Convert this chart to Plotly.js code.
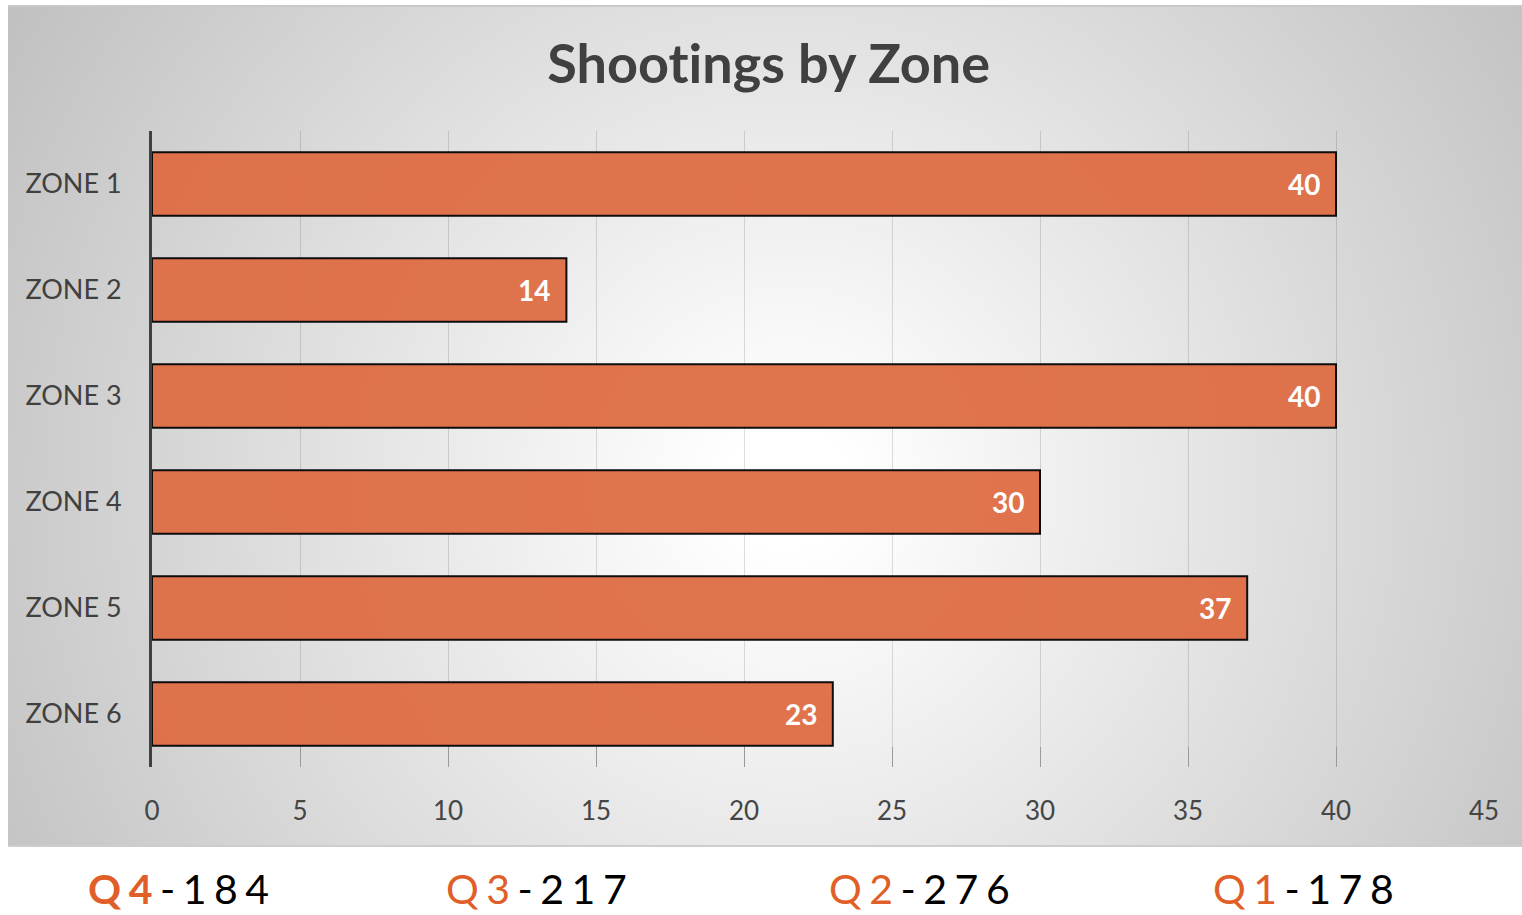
<!DOCTYPE html>
<html>
<head>
<meta charset="utf-8">
<script src="https://cdn.plot.ly/plotly-3.0.1.min.js"></script>
<style>
  html, body { margin:0; padding:0; background:#ffffff; }
  #wrap { position:relative; width:1522px; height:915px; overflow:hidden; }
  #panel {
    position:absolute; left:8px; top:5px; width:1514px; height:838px;
    border-top:2px solid #c9c9c9; border-bottom:2px solid #cdcdcd;
    background: radial-gradient(circle 1000px at 780px 480px, #ffffff 0%, #ffffff 6%, #bababa 100%);
  }
  #chart { position:absolute; left:0; top:0; width:1522px; height:915px; }
  #chart text { font-variant-ligatures: none; font-feature-settings: "liga" 0, "clig" 0; }
</style>
</head>
<body>
<div id="wrap">
  <div id="panel"></div>
  <div id="chart"></div>
</div>
<script>
const zones = ["ZONE 1", "ZONE 2", "ZONE 3", "ZONE 4", "ZONE 5", "ZONE 6"];
const shootings = [40, 14, 40, 30, 37, 23];
const quarters = ["Q4", "Q3", "Q2", "Q1"];
const quarterTotals = [184, 217, 276, 178];
const xTicks = [0, 5, 10, 15, 20, 25, 30, 35, 40, 45];

const FONT = "Lato, 'Open Sans', sans-serif";
const ORANGE = "#E05F28";

const trace = {
  type: "bar",
  orientation: "h",
  x: shootings,
  y: zones,
  marker: { color: "#DF6C42", opacity: 0.94, line: { color: "#000000", width: 2 } },
  hoverinfo: "x+y"
};

const labelAnn = shootings.map((v, i) => ({
  x: v, y: zones[i], xref: "x", yref: "y",
  text: "<b>" + v + "</b>", showarrow: false,
  xanchor: "right", yanchor: "middle", xshift: -14, yshift: 0,
  font: { family: FONT, size: 28, color: "#ffffff" }
}));

const qCenters = [0.0231, 0.2912, 0.5790, 0.8670];
const qAnn = quarters.map((q, i) => ({
  x: qCenters[i], y: -0.191, xref: "paper", yref: "paper",
  showarrow: false, xanchor: "center", yanchor: "middle",
  text: '<span style="color:' + ORANGE + ';letter-spacing:7.5px">' + (i === 0 ? '<b>' + q + '</b>' : q) + '</span>' +
        '<span style="color:#000000;letter-spacing:7.5px">-' + quarterTotals[i] + '</span>',
  font: { family: FONT, size: 41, color: "#000000" }
}));

const layout = {
  width: 1522, height: 915,
  paper_bgcolor: "rgba(0,0,0,0)",
  plot_bgcolor: "rgba(0,0,0,0)",
  margin: { l: 152, r: 38, t: 131, b: 148 },
  showlegend: false,
  bargap: 0.4,
  title: {
    text: "<b>Shootings by Zone</b>",
    x: 0.505, xanchor: "center",
    y: 0.93, yanchor: "middle",
    font: { family: FONT, size: 54, color: "#404040" }
  },
  xaxis: {
    range: [0, 45],
    tickvals: xTicks,
    ticktext: xTicks.map(String),
    showgrid: true,
    gridcolor: "rgba(0,0,0,0.13)",
    gridwidth: 1,
    zeroline: false,
    showline: false,
    ticks: "inside",
    ticklen: 20,
    tickcolor: "#9a9a9a",
    tickwidth: 1,
    ticklabelstandoff: 26,
    tickfont: { family: FONT, size: 26, color: "#454545" },
    fixedrange: true
  },
  yaxis: {
    type: "category",
    autorange: "reversed",
    showgrid: false,
    zeroline: false,
    showline: true,
    linecolor: "#404040",
    linewidth: 3,
    ticks: "",
    ticklabelstandoff: 22,
    tickfont: { family: FONT, size: 27, color: "#404040" },
    fixedrange: true
  },
  annotations: labelAnn.concat(qAnn)
};

Plotly.newPlot("chart", [trace], layout, { displayModeBar: false, staticPlot: true });
</script>
</body>
</html>
